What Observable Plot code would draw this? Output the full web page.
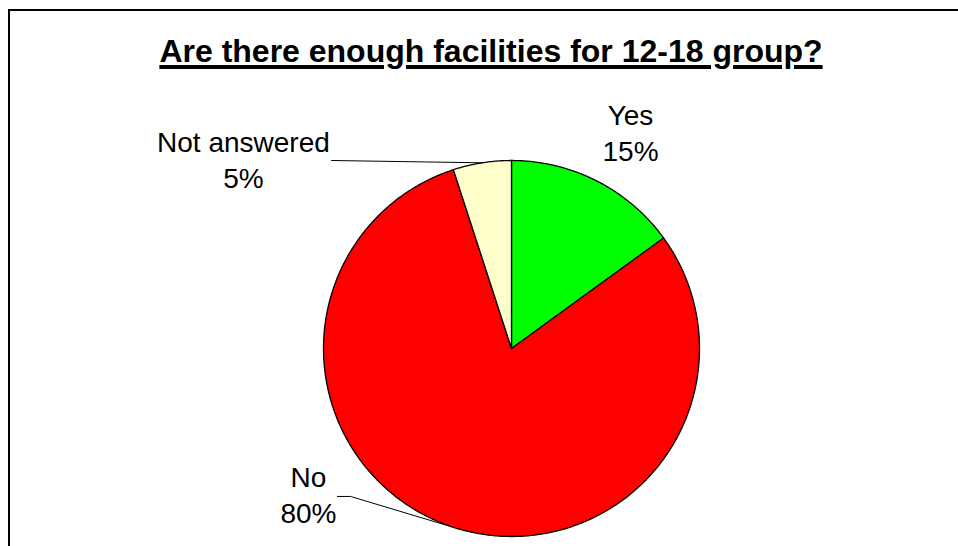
<!DOCTYPE html>
<html><head><meta charset="utf-8">
<script src="https://cdn.jsdelivr.net/npm/d3@7"></script>
<script src="https://cdn.jsdelivr.net/npm/@observablehq/plot@0.6"></script>
<style>
html,body{margin:0;padding:0;background:#fff;}
#wrap{position:relative;width:958px;height:546px;overflow:hidden;font-family:Arial,"Liberation Sans",sans-serif;}
#frame{position:absolute;left:8px;top:9px;width:1000px;height:600px;border-top:2px solid #000;border-left:2px solid #000;}
#title{position:absolute;left:0;top:35px;width:982px;text-align:center;font-weight:bold;font-size:32px;line-height:1;color:#000;text-decoration:underline;text-decoration-thickness:4px;text-underline-offset:3px;}
#chart{position:absolute;left:0;top:80px;}
</style></head><body>
<div id="wrap"><div id="frame"></div><div id="title">Are there enough facilities for 12-18 group?</div><div id="chart"></div></div>
<script>
const categories = ["Yes", "No", "Not answered"];
const values = [15, 80, 5];
const percentLabels = ["15%", "80%", "5%"];
const colors = ["#00FF00", "#FF0000", "#FFFFCC"];
// label layout in unit-radius coordinates (as placed in the original)
const labelX = [0.633, -1.080, -1.426];
const labelY = [1.154, -0.771, 1.011];
const leaderStarts = [null, [[-0.926, -0.787], [-0.856, -0.787]], [[-0.957, 1.0]]];

const arcs = d3.pie().sort(null).value(d => d)(values);

const marks = [];
arcs.forEach((a, i) => {
  const pts = [{x: 0, y: 0}];
  const n = Math.max(2, Math.ceil((a.endAngle - a.startAngle) / (Math.PI / 360)));
  for (let k = 0; k <= n; k++) {
    const t = a.startAngle + (a.endAngle - a.startAngle) * k / n;
    pts.push({x: Math.sin(t), y: Math.cos(t)});
  }
  pts.push({x: 0, y: 0});
  marks.push(Plot.line(pts, {x: "x", y: "y", fill: colors[i], stroke: "#000", strokeWidth: 1.3, strokeLinejoin: "round", curve: "linear"}));
});

arcs.forEach((a, i) => {
  if (!leaderStarts[i]) return;
  const mid = (a.startAngle + a.endAngle) / 2;
  const pts = leaderStarts[i].map(([x, y]) => ({x, y}));
  pts.push({x: Math.sin(mid), y: Math.cos(mid)});
  marks.push(Plot.line(pts, {x: "x", y: "y", stroke: "#000", strokeWidth: 1, curve: "linear"}));
});

const labels = categories.map((c, i) => ({x: labelX[i], y: labelY[i], text: c + "\n" + percentLabels[i]}));
marks.push(Plot.text(labels, {x: "x", y: "y", text: "text", fontSize: 28, lineHeight: 1.286, fill: "#000", textAnchor: "middle"}));

const cx = 511, cy = 268, r = 188;
const chart = Plot.plot({
  width: 958,
  height: 466,
  margin: 0,
  style: {fontFamily: "Arial, 'Liberation Sans', sans-serif", background: "transparent", overflow: "visible"},
  x: {domain: [-1, 1], range: [cx - r, cx + r], axis: null},
  y: {domain: [-1, 1], range: [cy + r, cy - r], axis: null},
  marks
});
document.getElementById("chart").appendChild(chart);
</script>
</body></html>
